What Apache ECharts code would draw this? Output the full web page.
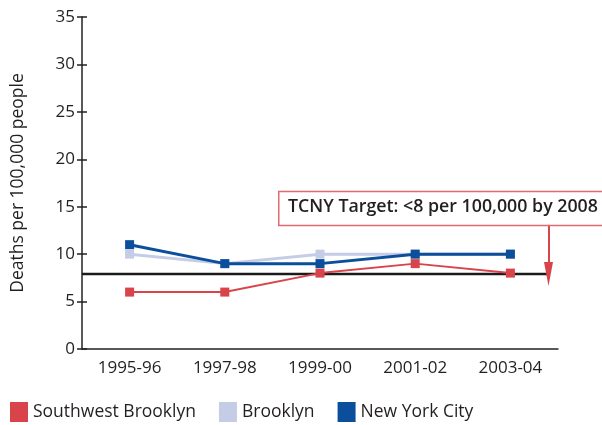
<!DOCTYPE html>
<html><head><meta charset="utf-8">
<script src="https://cdn.jsdelivr.net/npm/echarts@6/dist/echarts.min.js"></script>
<style>html,body{margin:0;padding:0;background:#fff}#c{width:602px;height:425px}</style>
</head><body><div id="c"></div>
<script>
const categories = ['1995-96','1997-98','1999-00','2001-02','2003-04'];
const swBrooklyn = [6, 6, 8, 9, 8];
const brooklyn = [10, 9, 10, 10, 10];
const nyc = [11, 9, 9, 10, 10];
const targetValue = 7.9;
const targetEndX = 4.9;
const annotationTop = 13.1;
const annotationText = 'TCNY Target: <8 per 100,000 by 2008';

const font = 'Open Sans';
const chart = echarts.init(document.getElementById('c'));
const sq = {symbol:'rect', symbolSize:9, showSymbol:true};
chart.setOption({
  animation:false,
  textStyle:{fontFamily:font},
  grid:{left:82, right:44, top:17, bottom:76, containLabel:false},
  legend:{
    left:5, bottom:-2, icon:'rect', itemWidth:18, itemHeight:20, itemGap:23,
    textStyle:{fontSize:17.5, color:'#231f20', fontFamily:font},
    data:['Southwest Brooklyn','Brooklyn','New York City']
  },
  xAxis:[{
    type:'category', data:categories, boundaryGap:true,
    axisLine:{lineStyle:{color:'#222', width:1.5}},
    axisTick:{length:10, lineStyle:{color:'#222', width:1.5}},
    axisLabel:{fontSize:17, color:'#231f20', margin:11}
  },{
    type:'value', min:0, max:5, show:false
  }],
  yAxis:[{
    type:'value', min:0, max:35, interval:5,
    name:'Deaths per 100,000 people', nameLocation:'middle', nameGap:55,
    nameTextStyle:{fontSize:17.5, color:'#231f20'},
    splitLine:{show:false},
    axisLine:{show:true, lineStyle:{color:'#222', width:1.5}},
    axisTick:{show:true, length:5, lineStyle:{color:'#222', width:1.5}},
    axisLabel:{fontSize:17, color:'#231f20', margin:7}
  },{
    type:'value', min:0, max:35, interval:5, position:'left',
    splitLine:{show:false},
    axisLine:{show:false},
    axisTick:{show:true, inside:true, length:5, lineStyle:{color:'#222', width:1.5}},
    axisLabel:{show:false}
  }],
  series:[
    {name:'Target', type:'line', xAxisIndex:1, yAxisIndex:0, symbol:'none', silent:true,
     data:[[0,targetValue],[targetEndX,targetValue]],
     lineStyle:{color:'#1a1a1a', width:2.5}, z:1,
     markLine:{silent:true, symbol:['none','triangle'], symbolSize:[9,24], label:{show:false},
       lineStyle:{color:'#d9434a', width:2, type:'solid'},
       data:[[{coord:[targetEndX,annotationTop]},{coord:[targetEndX,targetValue]}]]}
    },
    Object.assign({name:'Brooklyn', type:'line', data:brooklyn, color:'#c5cde6',
     lineStyle:{width:3, color:'#c5cde6'}, itemStyle:{color:'#c5cde6'}, z:2}, sq),
    Object.assign({name:'Southwest Brooklyn', type:'line', data:swBrooklyn, color:'#d9434a',
     lineStyle:{width:2, color:'#d9434a'}, itemStyle:{color:'#d9434a'}, z:3}, sq),
    Object.assign({name:'New York City', type:'line', data:nyc, color:'#0b4f9c',
     lineStyle:{width:3, color:'#0b4f9c'}, itemStyle:{color:'#0b4f9c'}, z:4}, sq)
  ]
});
const p = chart.convertToPixel({xAxisIndex:1, yAxisIndex:0}, [targetEndX, annotationTop]);
chart.setOption({graphic:[{
  type:'rect', left:278, top:p[1]-34, z:10,
  shape:{width:340, height:34},
  style:{fill:'#fff', stroke:'#e06a70', lineWidth:1.5}
},{
  type:'text', left:288, top:p[1]-27, z:11,
  style:{text:annotationText, font:'600 17.8px "'+font+'"', fill:'#231f20'}
}]});
</script></body></html>
